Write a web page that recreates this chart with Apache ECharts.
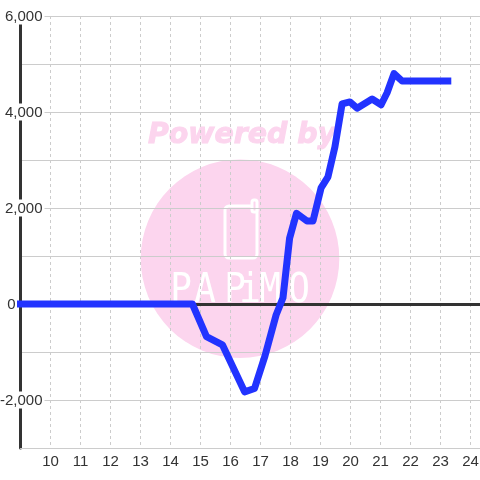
<!DOCTYPE html>
<html><head><meta charset="utf-8">
<style>html,body{margin:0;padding:0;background:#fff}#c{width:480px;height:480px}</style>
<script src="https://cdn.jsdelivr.net/npm/echarts@6/dist/echarts.min.js"></script>
</head><body><div id="c"></div>
<script>
var hours=[8.883,14.73,15.2,15.73,16.47,16.8,17.15,17.52,17.75,17.97,18.2,18.55,18.75,19.02,19.25,19.48,19.72,19.98,20.22,20.72,21.02,21.22,21.45,21.72,23.36];
var values=[0,0,-680,-850,-1830,-1760,-1080,-230,130,1370,1890,1730,1730,2420,2650,3270,4170,4210,4080,4270,4150,4400,4800,4645,4645];
var yTicksShown=[6000,4000,2000,-2000];
var watermarkTop='Powered by';
var brandLetters=['P','A','P','i','M','O'];
var brandCenters=[181,205,235,250,270,299];
var pink='#fcd5ee';
var graphics=[
  {type:'circle',z:-10,shape:{cx:240,cy:258.7,r:99.3},style:{fill:pink}},
  {type:'text',z:-10,x:148,y:122,style:{text:watermarkTop,fill:pink,stroke:pink,lineWidth:1,font:'italic bold 28.4px "DejaVu Sans"'}},
  {type:'rect',z:-9,shape:{x:225,y:206,width:32,height:52,r:4},style:{fill:'none',stroke:'#fff',lineWidth:3}},
  {type:'rect',z:-9,shape:{x:252,y:200,width:5,height:12,r:2},style:{fill:pink,stroke:'#fff',lineWidth:3}}
];
brandLetters.forEach(function(l,i){
  graphics.push({type:'text',z:-9,x:brandCenters[i],y:292,scaleX:1.8,scaleY:2.0,
    style:{text:l,fill:'#fff',align:'center',verticalAlign:'middle',font:'20px "DejaVu Sans Mono"'}});
});
var chart=echarts.init(document.getElementById('c'),null,{renderer:'canvas'});
chart.setOption({
 animation:false,
 grid:{left:20.5,right:0,top:16,bottom:32,containLabel:false,outerBoundsMode:'none'},
 graphic:graphics,
 xAxis:[{type:'value',min:9,max:24.317,interval:1,position:'bottom',
   axisLine:{onZero:false,lineStyle:{color:'#ccc',width:1}},axisTick:{show:false},
   axisLabel:{color:'#333',fontSize:15,fontFamily:'Liberation Sans',margin:6,showMinLabel:false,showMaxLabel:false,hideOverlap:false},
   splitLine:{show:true,lineStyle:{color:'#ccc',type:[3,3],width:1}}},
  {type:'value',min:9,max:24.317,interval:1,position:'bottom',
   axisLine:{onZero:true,lineStyle:{color:'#333',width:3}},axisTick:{show:false},axisLabel:{show:false},splitLine:{show:false}}],
 yAxis:{type:'value',min:-3000,max:6000,interval:1000,
   axisLine:{show:true,lineStyle:{color:'#333',width:3}},axisTick:{show:false},
   axisLabel:{color:'#333',fontSize:15,fontFamily:'Liberation Sans',margin:-24,align:'right',
     rich:{n:{fontSize:15,fontFamily:'Liberation Sans',color:'#333',backgroundColor:'#fff',padding:[2,2,0,0]},
           z:{fontSize:15,fontFamily:'Liberation Sans',color:'#333',padding:[2,29,0,0]}},
     formatter:function(v){
       if(v===0)return '{z|0}';
       return yTicksShown.indexOf(v)>=0?'{n|'+v.toLocaleString('en-US')+'}':'';}},
   splitLine:{show:true,lineStyle:{color:'#ccc',width:1}}},
 series:[{type:'line',xAxisIndex:0,data:hours.map(function(h,i){return [h,values[i]];}),showSymbol:false,z:5,clip:false,
   lineStyle:{color:'#2233ff',width:7,cap:'butt',join:'round'}}]
});
</script></body></html>
